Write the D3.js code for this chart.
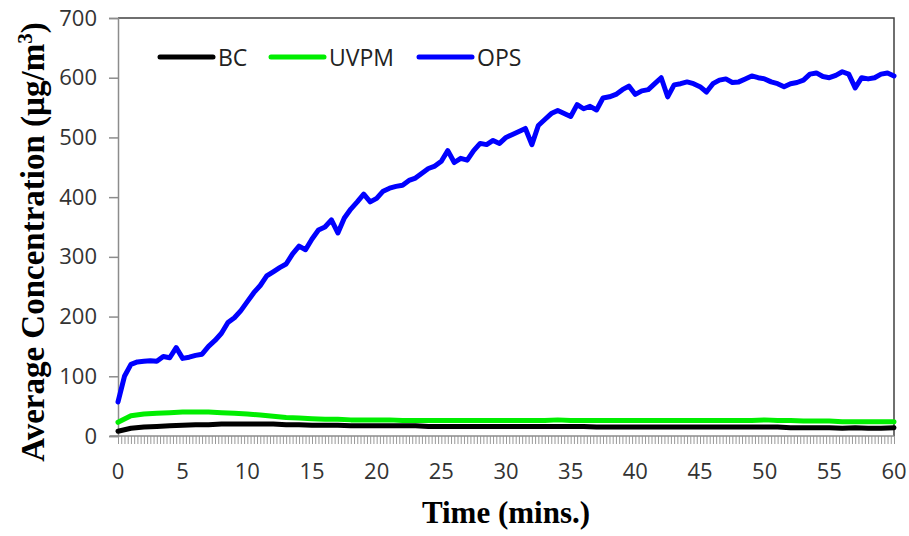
<!DOCTYPE html>
<html>
<head>
<meta charset="utf-8">
<script src="https://cdn.jsdelivr.net/npm/d3@7"></script>
<style>
body{margin:0;background:#fff;}
svg{display:block;}
</style>
</head>
<body>
<div id="chart"></div>
<script>
// OPS read every half minute, UVPM and BC every minute
var opsTimes = d3.range(0, 60.01, 0.5);
var opsValues = [57,100,120,124,125,126,125,133,131,148,130,132,135,137,150,160,172,190,198,210,
  225,240,252,268,275,282,288,305,318,312,330,345,350,362,340,365,380,392,405,392,
  398,410,415,418,420,428,432,440,448,452,460,478,458,465,462,478,490,488,495,490,
  500,505,510,515,488,520,530,540,545,540,535,555,548,552,546,566,568,572,580,586,
  572,578,580,590,600,568,588,590,593,590,585,576,590,596,598,592,593,598,603,600,
  598,593,590,585,590,592,596,606,608,602,600,604,610,606,583,600,598,600,606,608,603];
var minTimes = d3.range(0, 61, 1);
var uvpmValues = [23,34,37,38,39,40,40,40,39,38,37,35,33,31,30,29,28,28,27,27,
  27,27,26,26,26,26,26,26,26,26,26,26,26,26,27,26,26,26,26,26,
  26,26,26,26,26,26,26,26,26,26,27,26,26,25,25,25,24,24,24,24,24];
var bcValues = [8,13,15,16,17,18,19,19,20,20,20,20,20,19,19,18,18,18,17,17,
  17,17,17,17,16,16,16,16,16,16,16,16,16,16,16,16,16,15,15,15,
  15,15,15,15,15,15,15,15,15,15,15,15,14,14,14,14,13,14,13,13,14];
var seriesNames = ["BC","UVPM","OPS"];
var seriesColors = ["#000000","#00ee00","#0000ff"];
var xTickLabels = [0,5,10,15,20,25,30,35,40,45,50,55,60];
var yTickLabels = [0,100,200,300,400,500,600,700];

var width = 909, height = 536;
var margin = {top: 18, right: 15, bottom: 100, left: 118};

var svg = d3.select("#chart").append("svg")
  .attr("width", width)
  .attr("height", height);

var x = d3.scaleLinear().domain([0, 60]).range([margin.left, width - margin.right]);
var y = d3.scaleLinear().domain([0, 700]).range([height - margin.bottom, margin.top]);

// frame on top and right
svg.append("path")
  .attr("d", "M" + x(0) + "," + y(700) + "H" + x(60) + "V" + y(0))
  .attr("fill", "none")
  .attr("stroke", "#404040")
  .attr("stroke-width", 1.5);

// y axis
var yAxis = svg.append("g")
  .attr("transform", "translate(" + x(0) + ",0)")
  .call(d3.axisLeft(y).tickValues(yTickLabels).tickSize(9).tickPadding(12));
yAxis.select(".domain").attr("stroke", "#8c8c8c").attr("stroke-width", 1.5);
yAxis.selectAll(".tick line").attr("stroke", "#8c8c8c").attr("stroke-width", 1.5);
yAxis.selectAll("text")
  .attr("font-family", "'Open Sans', sans-serif")
  .attr("font-size", 22)
  .attr("fill", "#333");

// x axis: a tick for every 15 s, a label every 5 min
var minorTicks = d3.range(0, 241).map(function(i) { return i / 4; });
var xAxis = svg.append("g")
  .attr("transform", "translate(0," + y(0) + ")")
  .call(d3.axisBottom(x).tickValues(minorTicks).tickSize(8).tickFormat(""));
xAxis.select(".domain").remove();
xAxis.selectAll(".tick line").attr("stroke", "#999").attr("stroke-width", 1);

svg.append("line")
  .attr("x1", x(0) - 8).attr("x2", x(60))
  .attr("y1", y(0)).attr("y2", y(0))
  .attr("stroke", "#8c8c8c").attr("stroke-width", 1.5);

svg.append("g")
  .selectAll("text")
  .data(xTickLabels)
  .enter()
  .append("text")
  .attr("x", function(d) { return x(d); })
  .attr("y", y(0) + 43)
  .attr("text-anchor", "middle")
  .attr("font-family", "'Open Sans', sans-serif")
  .attr("font-size", 22)
  .attr("fill", "#333")
  .text(function(d) { return d; });

// lines
var line = d3.line()
  .x(function(d) { return x(d[0]); })
  .y(function(d) { return y(d[1]); })
  .curve(d3.curveLinear);

var seriesData = [
  d3.zip(minTimes, bcValues),
  d3.zip(minTimes, uvpmValues),
  d3.zip(opsTimes, opsValues)
];

svg.append("g")
  .selectAll("path")
  .data(seriesData)
  .enter()
  .append("path")
  .attr("d", line)
  .attr("fill", "none")
  .attr("stroke", function(d, i) { return seriesColors[i]; })
  .attr("stroke-width", 5)
  .attr("stroke-linejoin", "round")
  .attr("stroke-linecap", "round");

// legend
var legendX = [160, 271, 419];
var legend = svg.append("g");
seriesNames.forEach(function(name, i) {
  legend.append("line")
    .attr("x1", legendX[i]).attr("x2", legendX[i] + 53)
    .attr("y1", 57).attr("y2", 57)
    .attr("stroke", seriesColors[i])
    .attr("stroke-width", 5)
    .attr("stroke-linecap", "round");
  legend.append("text")
    .attr("x", legendX[i] + 58)
    .attr("y", 66)
    .attr("font-family", "'Open Sans', sans-serif")
    .attr("font-size", 23)
    .attr("fill", "#222")
    .text(name);
});

// axis titles
svg.append("text")
  .attr("x", (x(0) + x(60)) / 2)
  .attr("y", 523)
  .attr("text-anchor", "middle")
  .attr("font-family", "'Liberation Serif', serif")
  .attr("font-weight", "bold")
  .attr("font-size", 31)
  .text("Time (mins.)");

var yTitle = svg.append("text")
  .attr("transform", "translate(44,242) rotate(-90)")
  .attr("text-anchor", "middle")
  .attr("font-family", "'Liberation Serif', serif")
  .attr("font-weight", "bold")
  .attr("font-size", 33);
yTitle.append("tspan").text("Average Concentration  (µg/m");
yTitle.append("tspan").attr("dy", -12).attr("font-size", 21).text("3");
yTitle.append("tspan").attr("dy", 12).text(")");
</script>
</body>
</html>
